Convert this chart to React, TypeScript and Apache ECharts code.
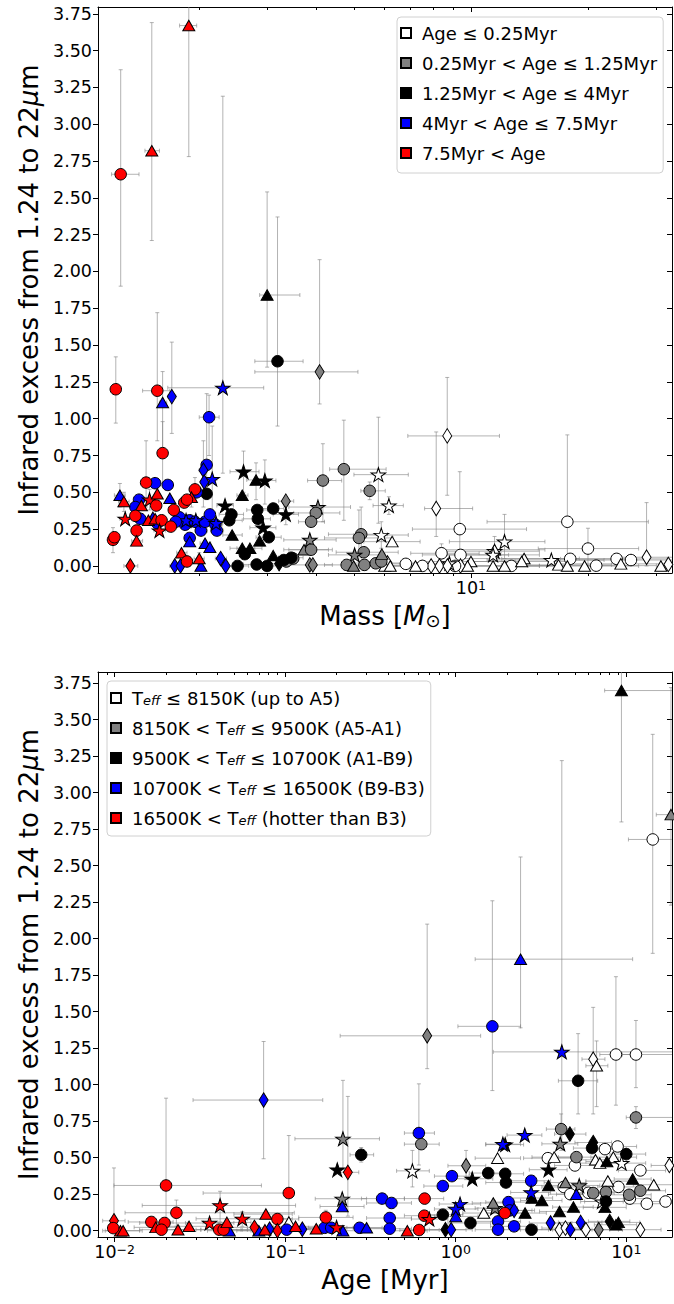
import React, { useEffect, useRef } from 'react';
import * as echarts from 'echarts';

// ---------------- data ----------------
// rows: [x, infraredExcess, shape, xLow, xHigh, yLow, yHigh]   (error bounds optional)
const massLegend = ['Age ≤ 0.25Myr', '0.25Myr < Age ≤ 1.25Myr', '1.25Myr < Age ≤ 4Myr', '4Myr < Age ≤ 7.5Myr', '7.5Myr < Age'];
const teffLegend = ['Teff ≤ 8150K (up to A5)', '8150K < Teff ≤ 9500K (A5-A1)', '9500K < Teff ≤ 10700K (A1-B9)', '10700K < Teff ≤ 16500K (B9-B3)', '16500K < Teff (hotter than B3)'];
const groupColors = ['#ffffff', '#808080', '#000000', '#0000ff', '#ff0000'];

const yTicks = [0, 0.25, 0.5, 0.75, 1, 1.25, 1.5, 1.75, 2, 2.25, 2.5, 2.75, 3, 3.25, 3.5, 3.75];
const massMajorTicks = [10];
const massMinorTicks = [2, 3, 4, 5, 6, 7, 8, 9, 20, 30];
const ageMajorTicks = [0.01, 0.1, 1, 10];
const ageMinorTicks = [0.009, 0.02, 0.03, 0.04, 0.05, 0.06, 0.07, 0.08, 0.09, 0.2, 0.3, 0.4, 0.5, 0.6, 0.7, 0.8, 0.9, 2, 3, 4, 5, 6, 7, 8, 9];

const massWhite: any[] = [
  [8.69, 0.883, 'd', 6.88, 11.84, 0.48, 1.28], [8.14, 0.39, 'd', 7.6, 10.1, 0.2, 0.91], [9.36, 0.25, 'o', 7.07, 13.9, 0.0, 0.64],
  [17.7, 0.3, 'o', 11.0, 28.6, 0.0, 0.89], [12.2, 0.165, '*', 8.8, 15.5, 0.05, 0.35], [20.0, 0.118, 'o', 14.9, 27.0, 0.0, 0.256],
  [28.3, 0.059, 'd', 24.0, 33.0, 0.0, 0.43], [25.8, 0.04, 'o', 18, 33], [23.7, 0.048, 'o', 17, 32], [24.3, 0.014, '^', 16, 33],
  [21.0, 0.002, 'o', 15, 30], [16.1, 0.04, '*', 11, 22], [18.0, 0.048, 'o', 12, 25], [13.7, 0.05, '^', 9.5, 19],
  [11.5, 0.1, '*', 8.5, 15], [11.5, 0.11, '^', 8.5, 15.5, 0.05, 0.2], [11.4, 0.075, '*', 8.4, 15], [9.4, 0.075, 'o', 7.5, 12.5],
  [8.4, 0.086, 'o', 7.0, 10.5, 0.03, 0.15], [10.0, 0.03, '^', 7.5, 13.0], [9.8, 0.0, '^'], [9.4, 0.0, 'd', 7.2, 12.5],
  [7.9, 0.0, 'd', 6.2, 10.0], [6.1, 0.02, 'd', 5.0, 7.5], [6.8, 0.014, 'o', 5.4, 8.5], [7.5, 0.0, 'o'], [9.1, 0.0, 'o'],
  [8.8, 0.018, '*'], [6.0, 0.0, '^', 4.8, 7.5], [6.2, 0.0, '^'], [7.2, 0.0, '^', 5.8, 9.0], [6.27, 0.165, '^', 5.3, 7.4],
  [5.88, 0.21, '*', 5.0, 6.9, 0.12, 0.3], [6.15, 0.41, '*', 5.6, 6.7, 0.35, 0.47], [5.78, 0.62, '*', 5.0, 6.9, 0.29, 1.01],
  [12.7, 0.0, 'o', 9.5, 17], [12.2, 0.0, '^'], [11.4, 0.0, '^', 8.5, 15], [13.5, 0.03, '^', 10, 18], [16.8, 0.007, '^', 12, 23],
  [17.7, 0.0, '^'], [19.6, 0.0, '^', 14, 27], [30.8, 0.0, '^'], [32.2, 0.01, 'd'], [8.3, 0.0, 'd'], [8.7, 0.0, 'd'],
];
const massGray: any[] = [
  [4.08, 1.318, 'd', 2.78, 5.12, 1.1, 2.08], [4.71, 0.657, 'o', 4.33, 6.05, 0.31, 0.99], [4.16, 0.58, 'o', 3.8, 4.65, 0.3, 0.83],
  [5.49, 0.51, 'o', 5.21, 6.02, 0.45, 0.57], [4.04, 0.4, '*', 3.4, 4.9], [3.99, 0.36, 'o', 3.5, 4.6], [3.88, 0.3, 'o', 3.6, 4.2],
  [5.22, 0.215, 'o', 4.3, 6.1, 0.0, 0.4], [5.15, 0.19, 'o', 4.2, 6.3, 0.0, 0.38], [5.3, 0.093, 'o', 4.5, 6.5],
  [5.02, 0.075, '*', 4.3, 6.0], [4.79, 0.007, 'o', 4.2, 5.5], [5.32, 0.007, 'o'], [5.69, 0.018, 'o'], [5.88, 0.03, 'o'],
  [4.99, 0.0, '^'], [5.9, 0.08, '^'], [3.85, 0.177, '*', 3.3, 4.5], [3.72, 0.11, '^', 3.3, 4.3], [3.88, 0.11, 'o', 3.4, 4.4],
  [3.85, 0.007, 'd', 3.3, 4.4], [3.92, 0.007, 'd'], [3.34, 0.44, 'd', 3.2, 3.5], [3.35, 0.03, 'o'], [3.49, 0.05, 'o'],
];
const massBlack: any[] = [
  [2.99, 1.84, '^', 2.86, 3.63, 1.35, 2.54], [3.18, 1.39, 'o', 2.78, 3.7, 0.95, 2.37], [2.6, 0.64, '*', 2.4, 2.85, 0.5, 0.78],
  [2.8, 0.584, '^', 2.65, 3.0, 0.45, 0.7], [2.95, 0.58, '*', 2.8, 3.15, 0.42, 0.72], [2.09, 0.49, 'o'], [2.58, 0.48, '^', 2.5, 2.67],
  [2.33, 0.41, '*', 2.22, 2.45], [2.42, 0.35, 'o', 2.25, 2.6], [2.39, 0.31, 'o', 2.22, 2.58], [2.82, 0.38, 'o', 2.65, 3.0],
  [2.83, 0.32, 'o', 2.6, 3.05], [3.1, 0.39, 'o', 2.9, 3.3], [3.34, 0.35, '*', 3.1, 3.6, 0.28, 0.42], [2.92, 0.26, '*', 2.7, 3.15],
  [2.43, 0.21, '^', 2.3, 2.58], [3.02, 0.195, 'o', 2.8, 3.25], [2.58, 0.12, '^', 2.4, 2.78], [2.7, 0.12, '^', 2.5, 2.9],
  [2.51, 0.0, 'o', 2.35, 2.68], [2.81, 0.01, 'o', 2.6, 3.05], [2.99, 0.0, 'o', 2.75, 3.25], [3.21, 0.015, 'd', 3.0, 3.45],
  [3.45, 0.056, 'o', 3.2, 3.7], [2.86, 0.17, '^'], [2.62, 0.08, 'o'], [3.1, 0.07, '^'], [3.3, 0.04, 'o'],
];
const massBlue: any[] = [
  [2.3, 1.21, '*', 1.66, 2.93, 0.63, 3.19], [1.61, 1.11, '^', 1.58, 1.65, 0.78, 1.32], [1.7, 1.15, 'd', 1.66, 1.74, 0.9, 1.52],
  [2.12, 1.01, 'o', 2.0, 2.25, 0.75, 1.16], [2.09, 0.686, 'o', 2.03, 2.15, 0.45, 1.17], [2.05, 0.65, 'd', 2.0, 2.1, 0.4, 0.85],
  [2.16, 0.59, '*', 2.1, 2.22, 0.3, 0.95], [2.06, 0.57, 'd'], [1.54, 0.562, 'o', 1.5, 1.58], [1.66, 0.55, 'o', 1.62, 1.71],
  [1.97, 0.5, 'o'], [1.25, 0.48, '^', 1.21, 1.29, 0.4, 0.56], [1.68, 0.46, '^'], [1.4, 0.45, 'o'], [1.37, 0.4, 'o'],
  [1.41, 0.32, 'o', 1.37, 1.46], [1.78, 0.33, 'o', 1.72, 1.85], [1.84, 0.28, 'o', 1.78, 1.9], [1.89, 0.31, 'o', 1.83, 1.96],
  [1.95, 0.3, 'o', 1.88, 2.02], [2.02, 0.24, 'o', 1.95, 2.1], [2.07, 0.3, 'o', 2.0, 2.15], [2.2, 0.28, 'o', 2.12, 2.29],
  [2.22, 0.24, 'o', 2.14, 2.31], [1.85, 0.31, '*', 1.79, 1.92], [1.96, 0.31, '*', 1.89, 2.03], [2.21, 0.29, '*', 2.13, 2.3],
  [1.89, 0.19, 'o'], [1.89, 0.165, '^'], [2.07, 0.154, '^', 2.01, 2.14], [2.13, 0.127, '^'], [2.02, 0.0, '^'],
  [1.73, 0.0, 'd', 1.68, 1.79], [1.79, 0.0, 'd'], [2.27, 0.05, 'd', 2.2, 2.35], [2.34, 0.0, 'd'], [1.56, 0.29, 'o'],
  [1.52, 0.33, '^'], [1.74, 0.3, 'o'], [2.13, 0.35, 'o'],
];
const massRed: any[] = [
  [1.88, 3.67, '^', 1.78, 1.97, 2.78, 3.9], [1.51, 2.82, '^', 1.45, 1.58, 2.21, 3.69], [1.256, 2.66, 'o', 1.19, 1.4, 1.9, 3.37],
  [1.22, 1.2, 'o', 1.19, 1.25, 0.97, 1.42], [1.56, 1.19, 'o', 1.43, 1.68, 0.85, 1.72], [1.61, 0.766, 'o', 1.57, 1.66, 0.56, 0.98],
  [1.46, 0.566, 'o', 1.42, 1.5, 0.4, 0.85], [1.95, 0.52, 'o', 1.88, 2.02, 0.44, 0.6], [1.91, 0.467, '^', 1.85, 1.97, 0.4, 0.54],
  [1.28, 0.437, '^', 1.24, 1.32, 0.37, 0.5], [1.49, 0.45, '*', 1.45, 1.54, 0.38, 0.52], [1.56, 0.49, '^'], [1.42, 0.41, '^'],
  [1.55, 0.41, 'o'], [1.29, 0.32, '*', 1.25, 1.34], [1.37, 0.34, 'o'], [1.48, 0.31, '^'], [1.54, 0.32, '^'], [1.6, 0.31, 'o'],
  [1.58, 0.24, '*', 1.53, 1.64], [1.38, 0.24, 'o', 1.34, 1.42, 0.2, 0.28], [1.38, 0.17, '^', 1.34, 1.43],
  [1.2, 0.177, 'o', 1.17, 1.24, 0.09, 0.26], [1.21, 0.195, 'o'], [1.69, 0.267, 'o', 1.64, 1.75], [1.8, 0.09, '^', 1.75, 1.86],
  [1.86, 0.03, 'o', 1.8, 1.92, 0.0, 0.07], [2.0, 0.05, '^', 1.94, 2.06, 0.01, 0.09], [1.33, 0.0, 'd', 1.28, 1.39],
  [1.83, 0.43, 'o'], [1.72, 0.38, 'o'], [1.86, 0.45, 'o'],
];

const ageWhite: any[] = [
  [14.3, 2.68, 'o', 10.3, 25, 1.9, 3.4], [6.4, 1.175, 'd', 5.5, 7.5, 0.8, 1.53], [6.7, 1.13, '^', 5.8, 7.8, 0.85, 1.3],
  [8.7, 1.207, 'o', 7.0, 11.0, 0.86, 1.74], [11.4, 1.207, 'o', 9.5, 25, 0.98, 1.44], [7.5, 0.559, 'o', 6.0, 10.0],
  [8.9, 0.577, 'o', 7.0, 11.5], [1.76, 0.497, '^', 1.3, 2.4], [3.47, 0.497, 'o', 2.5, 5.0], [3.78, 0.504, '^', 2.8, 5.2],
  [5.0, 0.447, 'o', 3.8, 6.8], [6.6, 0.486, '^', 5.0, 9.0], [7.0, 0.463, '^', 5.2, 9.5], [8.4, 0.504, '^', 6.2, 11.5],
  [9.4, 0.463, '*', 7.0, 13.0], [17.9, 0.447, 'd', 14, 25], [12.1, 0.413, 'o', 9.0, 17], [0.557, 0.41, '*', 0.45, 0.7, 0.3, 0.55],
  [14.5, 0.315, '^', 11, 20], [13.2, 0.185, 'o', 10, 19], [17.0, 0.2, 'o', 13, 25], [1.46, 0.121, '^', 1.1, 2.0],
  [4.06, 0.007, 'd', 3.0, 5.5], [4.4, 0.018, 'd', 3.2, 6.0], [5.8, 0.007, 'd', 4.2, 8.0], [12.1, 0.007, 'd', 9, 16],
  [4.3, 0.3, 'o', 3.2, 5.8], [4.7, 0.25, 'o', 3.5, 6.3], [6.0, 0.26, 'o', 4.5, 8.0], [7.2, 0.2, '*', 5.4, 9.6],
  [9.0, 0.3, 'o', 6.8, 12], [7.8, 0.34, '^', 5.8, 10.5], [10.5, 0.22, 'o', 8.0, 14], [0.105, 0.06, '^'],
];
const ageGray: any[] = [
  [18.3, 2.85, '^', 15, 25, 2.23, 3.72], [0.68, 1.335, 'd', 0.21, 1.4, 1.11, 2.1], [11.4, 0.776, 'o', 10.0, 25, 0.7, 0.85],
  [0.628, 0.593, 'o', 0.5, 0.8], [4.15, 0.696, 'o', 3.4, 5.0, 0.55, 0.8], [4.1, 0.595, '*', 3.2, 5.2], [5.1, 0.504, 'o', 4.0, 6.5],
  [0.218, 0.63, '*', 0.114, 0.357, 0.42, 1.03], [0.216, 0.219, '*', 0.15, 0.3], [1.15, 0.445, 'd', 0.9, 1.5, 0.35, 0.55],
  [1.7, 0.155, '*', 1.3, 2.3], [1.66, 0.19, '^', 1.25, 2.2], [6.4, 0.258, 'o', 4.8, 8.5], [7.6, 0.265, 'o', 5.8, 10],
  [10.4, 0.246, 'o', 8.0, 14], [12.1, 0.274, 'o', 9.0, 17], [6.9, 0.007, 'd', 5.0, 9.5], [5.3, 0.31, '*', 4.0, 7.0],
  [4.4, 0.33, '^', 3.3, 5.8],
];
const ageBlack: any[] = [
  [9.37, 3.7, '^', 7.47, 25, 2.8, 3.9], [5.22, 1.027, 'o', 4.0, 6.8, 0.8, 1.35], [4.67, 0.662, 'd', 3.8, 5.8],
  [6.4, 0.604, 'd', 5.0, 8.2], [6.3, 0.566, 'o', 4.9, 8.0], [10.0, 0.525, 'o', 8.0, 13], [0.279, 0.52, 'o', 0.24, 0.33, 0.47, 0.57],
  [0.202, 0.418, '*'], [1.25, 0.356, '*', 0.95, 1.65], [1.55, 0.395, 'o', 1.2, 2.0], [1.95, 0.39, 'o', 1.5, 2.5],
  [1.97, 0.33, 'o', 1.5, 2.6], [3.5, 0.418, '*', 2.7, 4.5], [3.5, 0.31, '^', 2.7, 4.5], [10.9, 0.354, '^', 8.5, 14],
  [2.8, 0.224, '^', 2.1, 3.7], [3.2, 0.207, '^', 2.4, 4.2], [0.84, 0.11, 'o', 0.65, 1.1], [2.55, 0.121, '^', 1.9, 3.4],
  [4.06, 0.132, '^', 3.1, 5.3], [4.9, 0.162, '^', 3.7, 6.4], [1.22, 0.053, 'o', 0.9, 1.6], [2.78, 0.007, 'o', 2.1, 3.7],
  [0.87, 0.007, 'd', 0.65, 1.15], [8.0, 0.064, 'd', 6.0, 10.5], [8.7, 0.041, '^', 6.5, 11.5], [9.0, 0.057, '^', 6.8, 12],
  [7.7, 0.474, '^', 5.8, 10], [7.6, 0.2, 'o', 5.7, 10], [7.5, 0.16, '^', 5.6, 10], [1.95, 0.59, '*', 1.5, 2.5],
];
const ageBlue: any[] = [
  [2.4, 1.86, '^', 1.3, 10.9, 1.39, 2.56], [1.64, 1.4, 'o', 1.03, 2.4, 0.96, 2.26], [4.19, 1.225, '*', 1.66, 25, 0.6, 3.22],
  [0.0747, 0.895, 'd', 0.0288, 0.166, 0.493, 1.296], [0.608, 0.669, 'o', 0.5, 0.75, 0.45, 1.006], [2.54, 0.655, '*', 2.0, 3.2],
  [1.89, 0.593, '*', 1.5, 2.4], [0.95, 0.374, 'o', 0.75, 1.2], [0.84, 0.306, 'o', 0.65, 1.1], [2.77, 0.342, 'o', 2.1, 3.6],
  [2.77, 0.262, '*', 2.1, 3.6], [1.06, 0.183, '*', 0.8, 1.4], [1.0, 0.149, '*', 0.75, 1.35], [1.0, 0.098, '^', 0.75, 1.35],
  [2.04, 0.196, 'o', 1.5, 2.7], [2.07, 0.139, 'o', 1.5, 2.8], [2.2, 0.139, 'd', 1.7, 2.9], [0.37, 0.22, 'o', 0.28, 0.5],
  [0.42, 0.19, 'o', 0.3, 0.55], [0.41, 0.087, 'o', 0.3, 0.55], [0.41, 0.014, 'o', 0.3, 0.55], [0.94, 0.007, 'd', 0.7, 1.25],
  [1.77, 0.064, 'o', 1.3, 2.4], [1.77, 0.007, 'o', 1.3, 2.4], [2.2, 0.03, 'o', 1.6, 3.0], [3.6, 0.053, 'd', 2.7, 4.8],
  [4.7, 0.007, 'd', 3.5, 6.3], [5.4, 0.057, 'd', 4.0, 7.2], [0.216, 0.166, '^', 0.16, 0.29], [5.1, 0.25, '^', 3.9, 6.8],
  [0.047, 0.0, '^', 0.035, 0.063], [0.07, 0.0, '^', 0.052, 0.094], [0.081, 0.01, 'd', 0.06, 0.11], [0.102, 0.007, 'o', 0.075, 0.14],
  [0.126, 0.01, 'd', 0.093, 0.17], [0.17, 0.02, 'o', 0.125, 0.23], [0.186, 0.02, 'o', 0.137, 0.25], [0.218, 0.0, '^', 0.16, 0.29],
  [0.273, 0.02, 'o', 0.2, 0.37], [0.3, 0.02, '^', 0.22, 0.4],
];
const ageRed: any[] = [
  [0.02, 0.31, 'o', 0.0099, 0.0725, 0.0, 0.908], [0.105, 0.258, 'o', 0.033, 0.113, 0.0, 0.652],
  [0.0415, 0.173, '*', 0.0145, 0.115, 0.06, 0.27], [0.023, 0.123, 'o', 0.0115, 0.113, 0.03, 0.21],
  [0.056, 0.082, '*', 0.03, 0.11, 0.03, 0.13], [0.077, 0.114, '^', 0.05, 0.11], [0.09, 0.08, 'o', 0.06, 0.12],
  [0.173, 0.091, 'o', 0.12, 0.25, 0.04, 0.14], [0.0099, 0.068, 'd', 0.0085, 0.0115, 0.0, 0.43], [0.0164, 0.06, 'o', 0.012, 0.022],
  [0.0196, 0.053, 'o', 0.014, 0.027], [0.0174, 0.023, '^', 0.013, 0.024], [0.0188, 0.007, 'o', 0.014, 0.026],
  [0.0235, 0.007, '^', 0.017, 0.032], [0.0273, 0.03, '^', 0.02, 0.037], [0.036, 0.053, '*', 0.026, 0.05],
  [0.041, 0.007, 'o', 0.03, 0.056], [0.0435, 0.007, 'o', 0.032, 0.06], [0.0455, 0.057, '^', 0.033, 0.063],
  [0.066, 0.023, 'd', 0.048, 0.09], [0.076, 0.007, '^', 0.055, 0.1], [0.09, 0.0, 'd', 0.066, 0.12], [0.115, 0.03, '^', 0.085, 0.155],
  [0.152, 0.014, '^', 0.11, 0.2], [0.2, 0.023, '*', 0.15, 0.27], [0.233, 0.4, 'd', 0.2, 0.27, 0.1, 0.92],
  [0.0108, 0.0, '^', 0.0085, 0.014], [0.0112, 0.0, '^', 0.0088, 0.0145], [0.0098, 0.018, 'o'], [0.657, 0.22, 'o', 0.5, 0.85],
  [0.654, 0.103, 'o', 0.5, 0.85], [0.7, 0.08, '*', 0.55, 0.9], [0.52, 0.0, '^', 0.4, 0.68], [0.61, 0.005, 'o', 0.47, 0.8],
  [1.94, 0.121, 'o', 1.5, 2.5],
];

// ---------------- styling ----------------
const FONT = 'DejaVu Sans';
const ERR = 'rgba(128,128,128,0.6)';
const STAR = 'path://M50 0 L61.23 34.55 L97.55 34.55 L68.16 55.9 L79.39 90.45 L50 69.1 L20.61 90.45 L31.84 55.9 L2.45 34.55 L38.77 34.55 Z';
const SYMBOL: Record<string, string> = { o: 'circle', '^': 'triangle', d: 'diamond', '*': STAR };
const SIZE: Record<string, any> = { o: 11.5, '^': [12, 10.5], d: [9, 14.5], '*': [14.5, 13.8] };
const TICK_FONT = 17.5;
const TITLE_FONT = 26;
const LEGEND_FONT = 18;

const lg = Math.log10;

function expLabel(v: number) {
  const e = Math.round(v);
  return '{b|10}{s|' + (e < 0 ? '−' + -e : String(e)) + '}';
}

function buildPanel(p: number, groups: any[][], names: string[], xr: [number, number], yr: [number, number], majors: number[], minors: number[]) {
  const gi = p;
  const xMin = lg(xr[0]);
  const xMax = lg(xr[1]);
  const lineStyle = { color: '#000', width: 1 };
  const base = { gridIndex: gi, type: 'value', min: xMin, max: xMax, splitLine: { show: false } };
  const xAxes = [
    {
      ...base, position: 'bottom',
      axisLine: { show: true, onZero: false, lineStyle },
      axisTick: { show: true, customValues: majors.map(lg), length: 5, lineStyle },
      axisLabel: {
        show: true, customValues: majors.map(lg), formatter: expLabel, margin: 6, color: '#000',
        rich: {
          b: { fontSize: TICK_FONT, fontFamily: FONT, color: '#000', lineHeight: 18, verticalAlign: 'bottom' },
          s: { fontSize: 12.5, fontFamily: FONT, color: '#000', lineHeight: 12, verticalAlign: 'top', padding: [0, 0, 10, 0] },
        },
      },
    },
    { ...base, position: 'bottom', axisLine: { show: false, onZero: false }, axisTick: { show: true, customValues: minors.map(lg), length: 3, lineStyle }, axisLabel: { show: false } },
    { ...base, position: 'top', axisLine: { show: true, onZero: false, lineStyle }, axisTick: { show: true, inside: true, customValues: majors.map(lg), length: 5, lineStyle }, axisLabel: { show: false } },
    { ...base, position: 'top', axisLine: { show: false, onZero: false }, axisTick: { show: true, inside: true, customValues: minors.map(lg), length: 3, lineStyle }, axisLabel: { show: false } },
  ];
  const yAxes = [
    {
      gridIndex: gi, type: 'value', min: yr[0], max: yr[1], position: 'left', splitLine: { show: false },
      axisLine: { show: true, onZero: false, lineStyle },
      axisTick: { show: true, customValues: yTicks, length: 5, lineStyle },
      axisLabel: { show: true, customValues: yTicks, formatter: (v: number) => v.toFixed(2), fontSize: TICK_FONT, fontFamily: FONT, color: '#000', margin: 6 },
      name: '{a|Infrared excess from 1.24 to 22}{i|μ}{a|m}', nameLocation: 'middle', nameGap: 54,
      nameTextStyle: { rich: { a: { fontSize: TITLE_FONT, fontFamily: FONT, color: '#000' }, i: { fontSize: TITLE_FONT, fontFamily: FONT, color: '#000', fontStyle: 'italic' } } },
    },
    {
      gridIndex: gi, type: 'value', min: yr[0], max: yr[1], position: 'right', splitLine: { show: false },
      axisLine: { show: true, onZero: false, lineStyle },
      axisTick: { show: true, inside: true, customValues: yTicks, length: 5, lineStyle },
      axisLabel: { show: false },
    },
  ];

  const xIdx = p * 4;
  const yIdx = p * 2;
  const errData: number[][] = [];
  groups.forEach((rows) => rows.forEach((r: any[]) => {
    errData.push([lg(r[0]), r[1], lg(r[3] ?? r[0]), lg(r[4] ?? r[0]), r[5] ?? r[1], r[6] ?? r[1]]);
  }));
  const series: any[] = [{
    type: 'custom', xAxisIndex: xIdx, yAxisIndex: yIdx, data: errData, clip: true, z: 1, silent: true,
    renderItem: (_params: any, api: any) => {
      const x = api.value(0), y = api.value(1), xl = api.value(2), xh = api.value(3), yl = api.value(4), yh = api.value(5);
      const st = { stroke: ERR, lineWidth: 1, fill: null };
      const ch: any[] = [];
      const cap = 2;
      if (xh > xl) {
        const a = api.coord([xl, y]);
        const b = api.coord([xh, y]);
        ch.push({ type: 'line', shape: { x1: a[0], y1: a[1], x2: b[0], y2: b[1] }, style: st });
        ch.push({ type: 'line', shape: { x1: a[0], y1: a[1] - cap, x2: a[0], y2: a[1] + cap }, style: st });
        ch.push({ type: 'line', shape: { x1: b[0], y1: b[1] - cap, x2: b[0], y2: b[1] + cap }, style: st });
      }
      if (yh > yl) {
        const a = api.coord([x, yl]);
        const b = api.coord([x, yh]);
        ch.push({ type: 'line', shape: { x1: a[0], y1: a[1], x2: b[0], y2: b[1] }, style: st });
        ch.push({ type: 'line', shape: { x1: a[0] - cap, y1: a[1], x2: a[0] + cap, y2: a[1] }, style: st });
        ch.push({ type: 'line', shape: { x1: b[0] - cap, y1: b[1], x2: b[0] + cap, y2: b[1] }, style: st });
      }
      return { type: 'group', children: ch };
    },
  }];
  groups.forEach((rows, ci) => {
    series.push({
      type: 'scatter', name: names[ci], xAxisIndex: xIdx, yAxisIndex: yIdx, z: 2 + ci, clip: true,
      itemStyle: { color: groupColors[ci], borderColor: '#000', borderWidth: 1, opacity: 1 },
      emphasis: { disabled: true },
      data: rows.map((r: any[]) => ({ value: [lg(r[0]), r[1]], symbol: SYMBOL[r[2]], symbolSize: SIZE[r[2]] })),
    });
  });
  return { xAxes, yAxes, series };
}

export default function App() {
  const ref = useRef<HTMLDivElement>(null);
  useEffect(() => {
    document.body.style.margin = '0';
    if (!ref.current) return;
    const chart = echarts.init(ref.current, undefined, { renderer: 'svg' });
    const top = buildPanel(0, [massWhite, massGray, massBlack, massBlue, massRed], massLegend, [1.098, 32.9], [-0.048, 3.796], massMajorTicks, massMinorTicks);
    const bot = buildPanel(1, [ageWhite, ageGray, ageBlack, ageBlue, ageRed], teffLegend, [0.00798, 18.55], [-0.043, 3.827], ageMajorTicks, ageMinorTicks);
    top.xAxes[0] = { ...top.xAxes[0], name: 'Mass [{i|M}{s|⊙}]', nameLocation: 'middle', nameGap: 30,
      nameTextStyle: { fontSize: TITLE_FONT, fontFamily: FONT, color: '#000', rich: { i: { fontSize: TITLE_FONT, fontFamily: FONT, fontStyle: 'italic', color: '#000' }, s: { fontSize: 18, fontFamily: FONT, color: '#000', verticalAlign: 'bottom', padding: [7, 0, 0, 0] } } } } as any;
    bot.xAxes[0] = { ...bot.xAxes[0], name: 'Age [Myr]', nameLocation: 'middle', nameGap: 30,
      nameTextStyle: { fontSize: TITLE_FONT, fontFamily: FONT, color: '#000' } } as any;
    const legendCommon = {
      orient: 'vertical', icon: 'rect', itemWidth: 10, itemHeight: 10, selectedMode: false,
      backgroundColor: 'rgba(255,255,255,0.85)', borderColor: '#d0d0d0', borderWidth: 1, borderRadius: 4,
      textStyle: { fontSize: LEGEND_FONT, fontFamily: FONT, color: '#000', lineHeight: 18, padding: [0, 0, 0, 6] },
    };
    chart.setOption({
      animation: false,
      backgroundColor: '#fff',
      grid: [
        { left: 98, width: 574, top: 7, height: 566, outerBoundsMode: 'none' },
        { left: 98, width: 574, top: 672, height: 565, outerBoundsMode: 'none' },
      ],
      xAxis: [...top.xAxes, ...bot.xAxes],
      yAxis: [...top.yAxes, ...bot.yAxes],
      legend: [
        { ...legendCommon, data: massLegend, left: 397, top: 17, itemGap: 12, padding: [7, 6, 11, 3] },
        {
          ...legendCommon, data: teffLegend, left: 107, top: 681, itemGap: 11, padding: [7, 6, 9, 3],
          formatter: (n: string) => n.replace('Teff', 'T{e|eff}'),
          textStyle: { ...legendCommon.textStyle, rich: { e: { fontSize: 13, fontFamily: FONT, fontStyle: 'italic', color: '#000', verticalAlign: 'bottom', lineHeight: 13, padding: [6, 0, 0, 0] } } },
        },
      ],
      series: [...top.series, ...bot.series],
    } as any);
    return () => chart.dispose();
  }, []);
  return <div ref={ref} style={{ width: 674, height: 1304 }} />;
}
